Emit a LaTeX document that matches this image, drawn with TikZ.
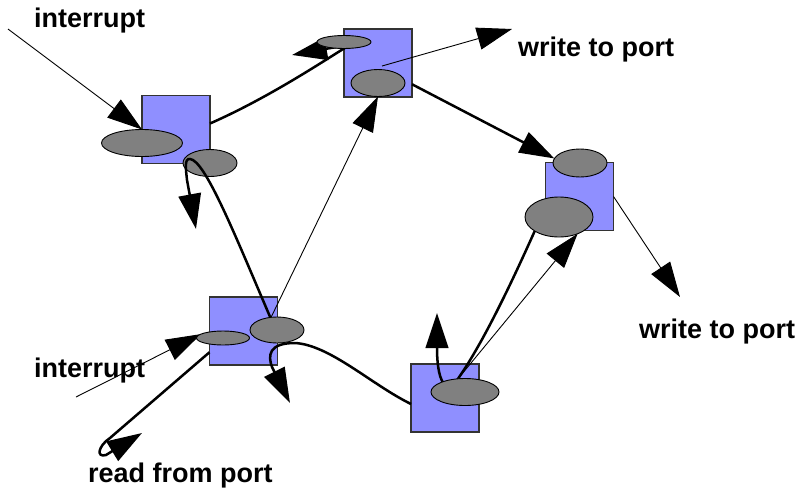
\documentclass[tikz,border=0pt]{standalone}
\usepackage{fontspec}
\setmainfont{Liberation Sans}
\usetikzlibrary{arrows.meta,shapes.geometric}
\definecolor{boxblue}{HTML}{8F8FFF}
\definecolor{portgray}{HTML}{808080}
\definecolor{boxedge}{HTML}{333333}
\pgfdeclarelayer{boxes}
\pgfdeclarelayer{flows}
\pgfsetlayers{boxes,flows,main}
\begin{document}
\begin{tikzpicture}[x=1pt,y=-1pt,
  proc/.style={draw=boxedge,line width=1.3pt,fill=boxblue,minimum width=68pt,minimum height=68pt,inner sep=0pt,outer sep=0pt},
  port/.style={ellipse,draw=black,line width=0.9pt,fill=portgray,inner sep=0pt,outer sep=0pt},
  tip/.style={-{Triangle[length=35pt,width=22.5pt]}},
  thinflow/.style={line width=0.9pt,tip},
  thickflow/.style={line width=2.5pt,tip},
  lbl/.style={font=\bfseries\fontsize{27}{30}\selectfont,inner sep=0pt,anchor=base west}]
\useasboundingbox (0,0) rectangle (798,490);

% processes
\begin{pgfonlayer}{boxes}
\node[proc] (b1) at (176,129.5) {};
\node[proc] (b2) at (378,63) {};
\node[proc] (b3) at (579.5,196.5) {};
\node[proc] (b4) at (243.5,331) {};
\node[proc] (b5) at (445,398) {};
\end{pgfonlayer}

% ports
\node[port,minimum width=81pt,minimum height=27pt] (e1a) at (142,143) {};
\node[port,minimum width=54pt,minimum height=27pt] (e1b) at (210,163) {};
\node[port,minimum width=54pt,minimum height=13pt] (e2a) at (344,42) {};
\node[port,minimum width=54pt,minimum height=27pt] (e2b) at (378,83) {};
\node[port,minimum width=54pt,minimum height=28pt] (e3a) at (580,163) {};
\node[port,minimum width=68pt,minimum height=40pt] (e3b) at (559,217) {};
\node[port,minimum width=53pt,minimum height=14pt] (e4a) at (223,338) {};
\node[port,minimum width=54pt,minimum height=26pt] (e4b) at (277,330) {};
\node[port,minimum width=68pt,minimum height=27pt] (e5) at (465,392) {};

% labels
\node[lbl] (t1) at (34,27) {interrupt};
\node[lbl] (t2) at (518,56) {write to port};
\node[lbl] (t3) at (639,338) {write to port};
\node[lbl] (t4) at (34,377) {interrupt};
\node[lbl] (t5) at (88,482) {read from port};

% free ends
\coordinate (irqA) at (8,29);
\coordinate (irqB) at (76,397);
\coordinate (hookB) at (292,55);
\coordinate (srcC) at ([shift={(4,3)}]b2.center);
\coordinate (outC) at (512,29);
\coordinate (outE) at (680,297);
\coordinate (upG) at (437,313);
\coordinate (topI) at ([shift={(-20,-4)}]e1b.center);
\coordinate (downI) at (196,229);
\coordinate (turnJ) at (295,343);
\coordinate (downJ) at (290,403);
\coordinate (loopL) at (110,438);
\coordinate (backL) at (142,433);

\begin{pgfonlayer}{flows}
\draw[thinflow] (irqA) -- (e1a.north);
\draw[thickflow] (b1.10) .. controls (268,98) and (322,62) .. (e2a.south)
  .. controls (354,44) and (336,47) .. (hookB);
\draw[thinflow] (srcC) -- (outC);
\draw[thickflow] (b2.-32) -- (e3a.170);
\draw[thinflow] (b3.east) -- (outE);
\draw[thinflow] (e5.118) -- (e3b.-42);
\draw[thickflow] (e3b.-150) .. controls (515,275) and (485,340) .. (e5.118)
  .. controls (450,393) and (437,390) .. (upG);
\draw[thinflow] (e4b.115) -- (e2b.south);
\draw[thickflow] (b5.190) .. controls (372,385) and (330,345) .. (turnJ)
  .. controls (268,343) and (268,356) .. (272,367) -- (downJ);
\draw[thinflow] (irqB) -- (e4a.170);
\draw[thickflow] (b4.212) -- (loopL) .. controls (98,446) and (96,458) .. (106,455) -- (backL);
\end{pgfonlayer}

% hook drawn over the port
\draw[thickflow] (e4b.118) .. controls (235,235) and (205,160) .. (topI)
  .. controls (184,158) and (186,170) .. (187,180) -- (downI);
\end{tikzpicture}
\end{document}
